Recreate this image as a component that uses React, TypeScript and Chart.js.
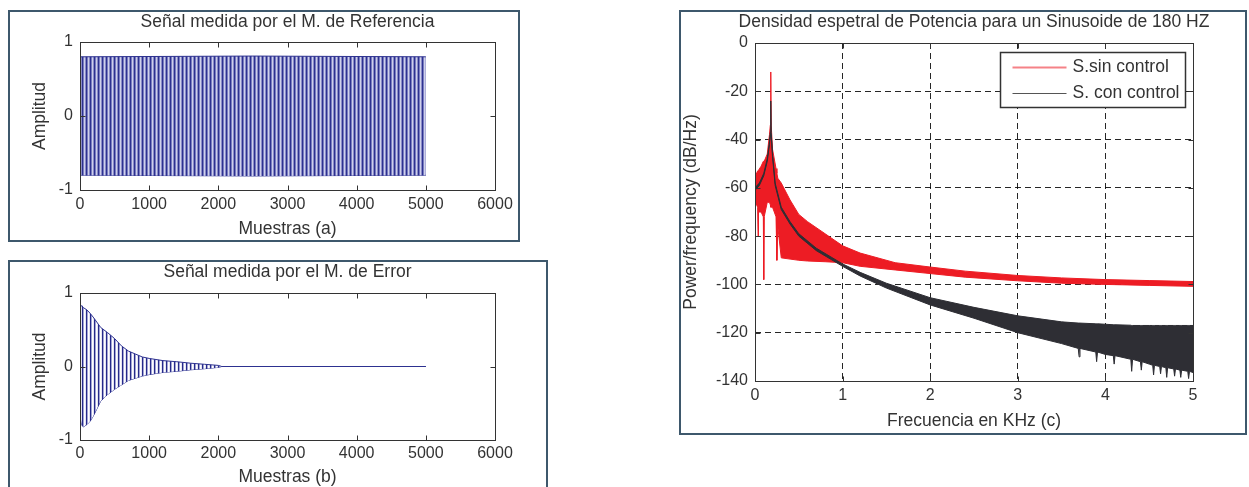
import React, { useEffect, useRef } from "react";
import { Chart, registerables } from "chart.js";

Chart.register(...registerables);

// ---------- DATA ----------
// (a) reference microphone signal: oscillation envelope (samples, amplitude)
const refSamples = [0, 2500, 5000];
const refUpper = [0.8, 0.81, 0.8];
const refLower = [-0.8, -0.81, -0.8];

// (b) error microphone signal: decaying oscillation envelope
const errSamples = [0, 25, 50, 100, 150, 200, 300, 400, 500, 600, 700, 800, 900, 1000, 1200, 1400, 1600, 1800, 2000, 2050, 5000];
const errUpper = [0.8, 0.83, 0.8, 0.77, 0.72, 0.66, 0.53, 0.46, 0.38, 0.28, 0.21, 0.17, 0.13, 0.11, 0.08, 0.065, 0.045, 0.03, 0.015, 0, 0];
const errLower = [-0.6, -0.8, -0.82, -0.79, -0.74, -0.66, -0.47, -0.38, -0.31, -0.25, -0.19, -0.16, -0.13, -0.11, -0.08, -0.065, -0.045, -0.03, -0.012, 0, 0];

// (c) PSD, kHz vs dB/Hz — "S.sin control" band (upper / lower edge)
const redFreq = [0, 0.005, 0.03, 0.035, 0.04, 0.07, 0.095, 0.1, 0.105, 0.14, 0.165, 0.175, 0.18, 0.185, 0.2, 0.24, 0.25, 0.26, 0.3, 0.4, 0.5, 0.6, 0.8, 1.0, 1.2, 1.6, 2.0, 2.4, 3.0, 3.5, 4.0, 4.5, 5.0];
const redUpper = [-54, -55, -53, -53, -53, -51, -49, -49, -49, -46, -38, -34, -12, -34, -44, -52, -54, -56, -58, -65, -71, -74, -79, -84, -87, -91, -92.8, -94.5, -96.3, -97.3, -98, -98.4, -98.8];
const redLower = [-116, -66, -68, -80, -70, -70, -72, -98, -72, -66, -66, -67, -68, -68, -68, -72, -90, -76, -89, -89.5, -90, -90.3, -90.6, -91, -92.5, -94, -95.5, -97, -98.5, -99.5, -100, -100.4, -100.8];

// "S. con control" band (upper / lower edge, with the deepest dips)
const blackFreq = [0, 0.05, 0.1, 0.14, 0.165, 0.175, 0.18, 0.185, 0.2, 0.23, 0.3, 0.4, 0.5, 0.7, 1.0, 1.2, 1.5, 2.0, 2.5, 3.0, 3.5, 3.69, 3.7, 3.71, 3.89, 3.9, 3.91, 4.0, 4.09, 4.1, 4.11, 4.29, 4.3, 4.31, 4.4, 4.41, 4.42, 4.5, 4.54, 4.55, 4.56, 4.62, 4.63, 4.64, 4.69, 4.7, 4.71, 4.78, 4.79, 4.8, 4.85, 4.86, 4.87, 4.94, 4.95, 4.96, 5.0];
const blackUpper = [-60, -58, -54, -48, -41, -37, -24, -37, -46, -58, -68, -74, -79, -85, -91.5, -95, -99.5, -105.5, -109.5, -113, -115.5, -116, -116, -116, -116.3, -116.3, -116.3, -116.5, -116.7, -116.7, -116.7, -116.9, -117, -117, -117, -117, -117, -117, -117, -117, -117, -117, -117, -117, -117, -117, -117, -117, -117, -117, -117, -117, -117, -117, -117, -117, -117];
const blackLower = [-61, -59, -55, -49, -42, -38, -38, -38, -47, -59, -69, -75, -80, -86, -92.5, -96.5, -101.5, -108.5, -114, -120, -124.5, -126.5, -130, -126.5, -128, -132, -128, -129, -129.5, -133, -129.5, -131, -136, -131, -132, -135.5, -132, -133, -133.5, -137.5, -133.5, -134, -137, -134, -134.5, -138.5, -134.5, -135, -138, -135, -135.5, -138.5, -135.5, -136, -139, -136, -136.5];

const legendLabels = ["S.sin control", "S. con control"];

// ---------- STYLE ----------
const FONT = "'Liberation Sans', Arial, Helvetica, sans-serif";
const TEXT = "#333333";
const BLUE = "#2d3190";
const RED = "#ed1c24";
const DARK = "#2e2e34";
const FS = 16; // tick labels
const LS = 17.5; // titles, axis titles, legend

Chart.defaults.font.family = FONT;
Chart.defaults.color = TEXT;

const pts = (xs: number[], ys: number[]) => xs.map((x, i) => ({ x, y: ys[i] }));

function stripePattern(cols: string[]) {
  const c = document.createElement("canvas");
  c.width = cols.length;
  c.height = 1;
  const g = c.getContext("2d")!;
  cols.forEach((col, i) => {
    g.fillStyle = col;
    g.fillRect(i, 0, 1, 1);
  });
  return g.createPattern(c, "repeat");
}

const boxPlugin = {
  id: "matlabBox",
  afterDatasetsDraw(chart: any) {
    const { ctx, chartArea: a, scales } = chart;
    const L = Math.round(a.left) + 0.5, R = Math.round(a.right) + 0.5;
    const T = Math.round(a.top) + 0.5, B = Math.round(a.bottom) + 0.5;
    ctx.save();
    ctx.strokeStyle = TEXT;
    ctx.lineWidth = 1;
    ctx.setLineDash([]);
    ctx.strokeRect(L, T, R - L, B - T);
    const tl = 5;
    ctx.beginPath();
    scales.x.ticks.forEach((t: any) => {
      const px = Math.round(scales.x.getPixelForValue(t.value)) + 0.5;
      ctx.moveTo(px, B); ctx.lineTo(px, B - tl);
      ctx.moveTo(px, T); ctx.lineTo(px, T + tl);
    });
    scales.y.ticks.forEach((t: any) => {
      const py = Math.round(scales.y.getPixelForValue(t.value)) + 0.5;
      ctx.moveTo(L, py); ctx.lineTo(L + tl, py);
      ctx.moveTo(R, py); ctx.lineTo(R - tl, py);
    });
    ctx.stroke();
    ctx.restore();
  },
};

const legendPlugin = {
  id: "insideLegend",
  afterDraw(chart: any) {
    const items = chart.data.datasets
      .filter((d: any) => d.label)
      .sort((p: any, q: any) => p.legendOrder - q.legendOrder);
    const { ctx, chartArea: a } = chart;
    ctx.save();
    ctx.font = `${LS}px ${FONT}`;
    const textW = Math.max(...items.map((d: any) => ctx.measureText(d.label).width));
    const w = Math.round(72 + textW + 6);
    const h = 55;
    const x = Math.round(a.right - 8 - w) + 0.5;
    const y = Math.round(a.top + 9) + 0.5;
    ctx.fillStyle = "#ffffff";
    ctx.fillRect(x, y, w, h);
    ctx.strokeStyle = TEXT;
    ctx.lineWidth = 1.5;
    ctx.strokeRect(x, y, w, h);
    items.forEach((d: any, i: number) => {
      const ly = Math.round(y + 14 + i * 26) + 0.5;
      ctx.strokeStyle = d.legendColor;
      ctx.lineWidth = d.legendWidth;
      ctx.beginPath();
      ctx.moveTo(x + 12, ly);
      ctx.lineTo(x + 66, ly);
      ctx.stroke();
      ctx.fillStyle = TEXT;
      ctx.textBaseline = "middle";
      ctx.textAlign = "left";
      ctx.fillText(d.label, x + 72, ly);
    });
    ctx.restore();
  },
};

const tickFont = { size: FS, family: FONT };
const labelFont = { size: LS, family: FONT, lineHeight: 1.2 };

function signalConfig(opts: {
  title: string; xTitle: string; xs: number[]; up: number[]; lo: number[];
  pattern: any; rightPad: number; bottomPad: number; xAxisH: number;
  titlePadB: number; tickPadX: number;
}) {
  return {
    type: "line",
    data: {
      datasets: [
        { data: pts(opts.xs, opts.up), fill: "+1", backgroundColor: opts.pattern, borderColor: BLUE, borderWidth: 1, pointRadius: 0, tension: 0 },
        { data: pts(opts.xs, opts.lo), fill: false, borderColor: BLUE, borderWidth: 1, pointRadius: 0, tension: 0 },
      ],
    },
    options: {
      responsive: false,
      animation: false,
      events: [],
      layout: { padding: { left: 0, right: opts.rightPad, top: 0, bottom: opts.bottomPad } },
      plugins: {
        legend: { display: false },
        tooltip: { enabled: false },
        title: {
          display: true, text: opts.title, fullSize: false, color: TEXT,
          font: { ...labelFont, weight: "normal" },
          padding: { top: 0, bottom: opts.titlePadB },
        },
      },
      scales: {
        x: {
          type: "linear", min: 0, max: 6000,
          ticks: { stepSize: 1000, padding: opts.tickPadX, color: TEXT, font: tickFont, maxRotation: 0, autoSkip: false, callback: (v: number) => String(v) },
          grid: { display: false, drawTicks: false },
          border: { display: false },
          title: { display: true, text: opts.xTitle, color: TEXT, font: labelFont, padding: { top: 0, bottom: 0 } },
          afterFit: (s: any) => { s.height = opts.xAxisH; },
        },
        y: {
          type: "linear", min: -1, max: 1,
          ticks: { stepSize: 1, padding: 7, color: TEXT, font: tickFont, callback: (v: number) => String(v) },
          grid: { display: false, drawTicks: false },
          border: { display: false },
          title: { display: true, text: "Amplitud", color: TEXT, font: labelFont, padding: { top: 19.5, bottom: 0 } },
          afterFit: (s: any) => { s.width = 70; },
        },
      },
    },
    plugins: [boxPlugin],
  };
}

function psdConfig() {
  return {
    type: "line",
    data: {
      datasets: [
        { label: legendLabels[1], legendOrder: 1, legendColor: "#555555", legendWidth: 1,
          data: pts(blackFreq, blackUpper), fill: "+1", backgroundColor: DARK, borderColor: DARK, borderWidth: 1, pointRadius: 0, tension: 0 },
        { data: pts(blackFreq, blackLower), fill: false, borderColor: DARK, borderWidth: 1, pointRadius: 0, tension: 0 },
        { label: legendLabels[0], legendOrder: 0, legendColor: "rgba(237,28,36,0.55)", legendWidth: 2,
          data: pts(redFreq, redUpper), fill: "+1", backgroundColor: RED, borderColor: RED, borderWidth: 1, pointRadius: 0, tension: 0 },
        { data: pts(redFreq, redLower), fill: false, borderColor: RED, borderWidth: 1, pointRadius: 0, tension: 0 },
      ],
    },
    options: {
      responsive: false,
      animation: false,
      events: [],
      layout: { padding: 0 },
      plugins: {
        legend: { display: false },
        tooltip: { enabled: false },
        title: {
          display: true, text: "Densidad espetral de Potencia para un Sinusoide de 180 HZ", fullSize: true, color: TEXT,
          font: { ...labelFont, weight: "normal" },
          padding: { top: 0, bottom: 10 },
        },
      },
      scales: {
        x: {
          type: "linear", min: 0, max: 5,
          ticks: { stepSize: 1, padding: 5, color: TEXT, font: tickFont, maxRotation: 0, autoSkip: false, callback: (v: number) => String(v) },
          grid: { display: true, drawTicks: false, color: "rgba(0,0,0,0.85)", lineWidth: 1 },
          border: { display: false, dash: [6, 4] },
          title: { display: true, text: "Frecuencia en KHz (c)", color: TEXT, font: labelFont, padding: { top: 0, bottom: 1.5 } },
          afterFit: (s: any) => { s.height = 52; },
        },
        y: {
          type: "linear", min: -140, max: 0,
          ticks: { stepSize: 20, padding: 7, color: TEXT, font: tickFont, callback: (v: number) => String(v) },
          grid: { display: true, drawTicks: false, color: "rgba(0,0,0,0.85)", lineWidth: 1 },
          border: { display: false, dash: [6, 4] },
          title: { display: true, text: "Power/frequency (dB/Hz)", color: TEXT, font: labelFont, padding: { top: 0, bottom: 0 } },
          afterFit: (s: any) => { s.width = 74; },
        },
        // empty right-hand margin so the full-width title is centred over the axes
        yRight: {
          type: "linear", position: "right", min: -140, max: 0, display: true,
          ticks: { display: false },
          grid: { display: false, drawTicks: false },
          border: { display: false },
          title: { display: false },
          afterFit: (s: any) => { s.width = 74; },
        },
      },
    },
    plugins: [boxPlugin, legendPlugin],
  };
}

type Rect = { left: number; top: number; w: number; h: number };

function Panel(props: { box: Rect; canvas: Rect; make: () => any }) {
  const ref = useRef<HTMLCanvasElement>(null);
  useEffect(() => {
    const chart = new Chart(ref.current as HTMLCanvasElement, props.make());
    return () => chart.destroy();
  }, []);
  const { box, canvas } = props;
  return (
    <>
      <div
        style={{
          position: "absolute", left: box.left, top: box.top, width: box.w, height: box.h,
          border: "2px solid #3e586c", boxSizing: "border-box", background: "#ffffff",
        }}
      />
      <canvas
        ref={ref}
        width={canvas.w}
        height={canvas.h}
        style={{ position: "absolute", left: canvas.left, top: canvas.top, width: canvas.w, height: canvas.h, display: "block" }}
      />
    </>
  );
}

export default function App() {
  return (
    <div style={{ position: "fixed", left: 0, top: 0, width: 1249, height: 487, overflow: "hidden", background: "#ffffff" }}>
      <Panel
        box={{ left: 8, top: 10, w: 512, h: 232 }}
        canvas={{ left: 10, top: 12, w: 508, h: 228 }}
        make={() => signalConfig({
          title: "Señal medida por el M. de Referencia", xTitle: "Muestras (a)",
          xs: refSamples, up: refUpper, lo: refLower,
          pattern: stripePattern(["#2d3190", "#7a7dc0", "#cfd0ea", "#8a8cc8"]),
          rightPad: 23, bottomPad: 0, xAxisH: 50, titlePadB: 9, tickPadX: 5,
        })}
      />
      <Panel
        box={{ left: 8, top: 260, w: 540, h: 240 }}
        canvas={{ left: 10, top: 262, w: 536, h: 236 }}
        make={() => signalConfig({
          title: "Señal medida por el M. de Error", xTitle: "Muestras (b)",
          xs: errSamples, up: errUpper, lo: errLower,
          pattern: stripePattern(["#262a8a", "#a3a5d4", "#ffffff", "#e4e4f2"]),
          rightPad: 51, bottomPad: 10, xAxisH: 48, titlePadB: 10, tickPadX: 3.5,
        })}
      />
      <Panel
        box={{ left: 679, top: 10, w: 568, h: 425 }}
        canvas={{ left: 681, top: 12, w: 586, h: 421 }}
        make={psdConfig}
      />
    </div>
  );
}
